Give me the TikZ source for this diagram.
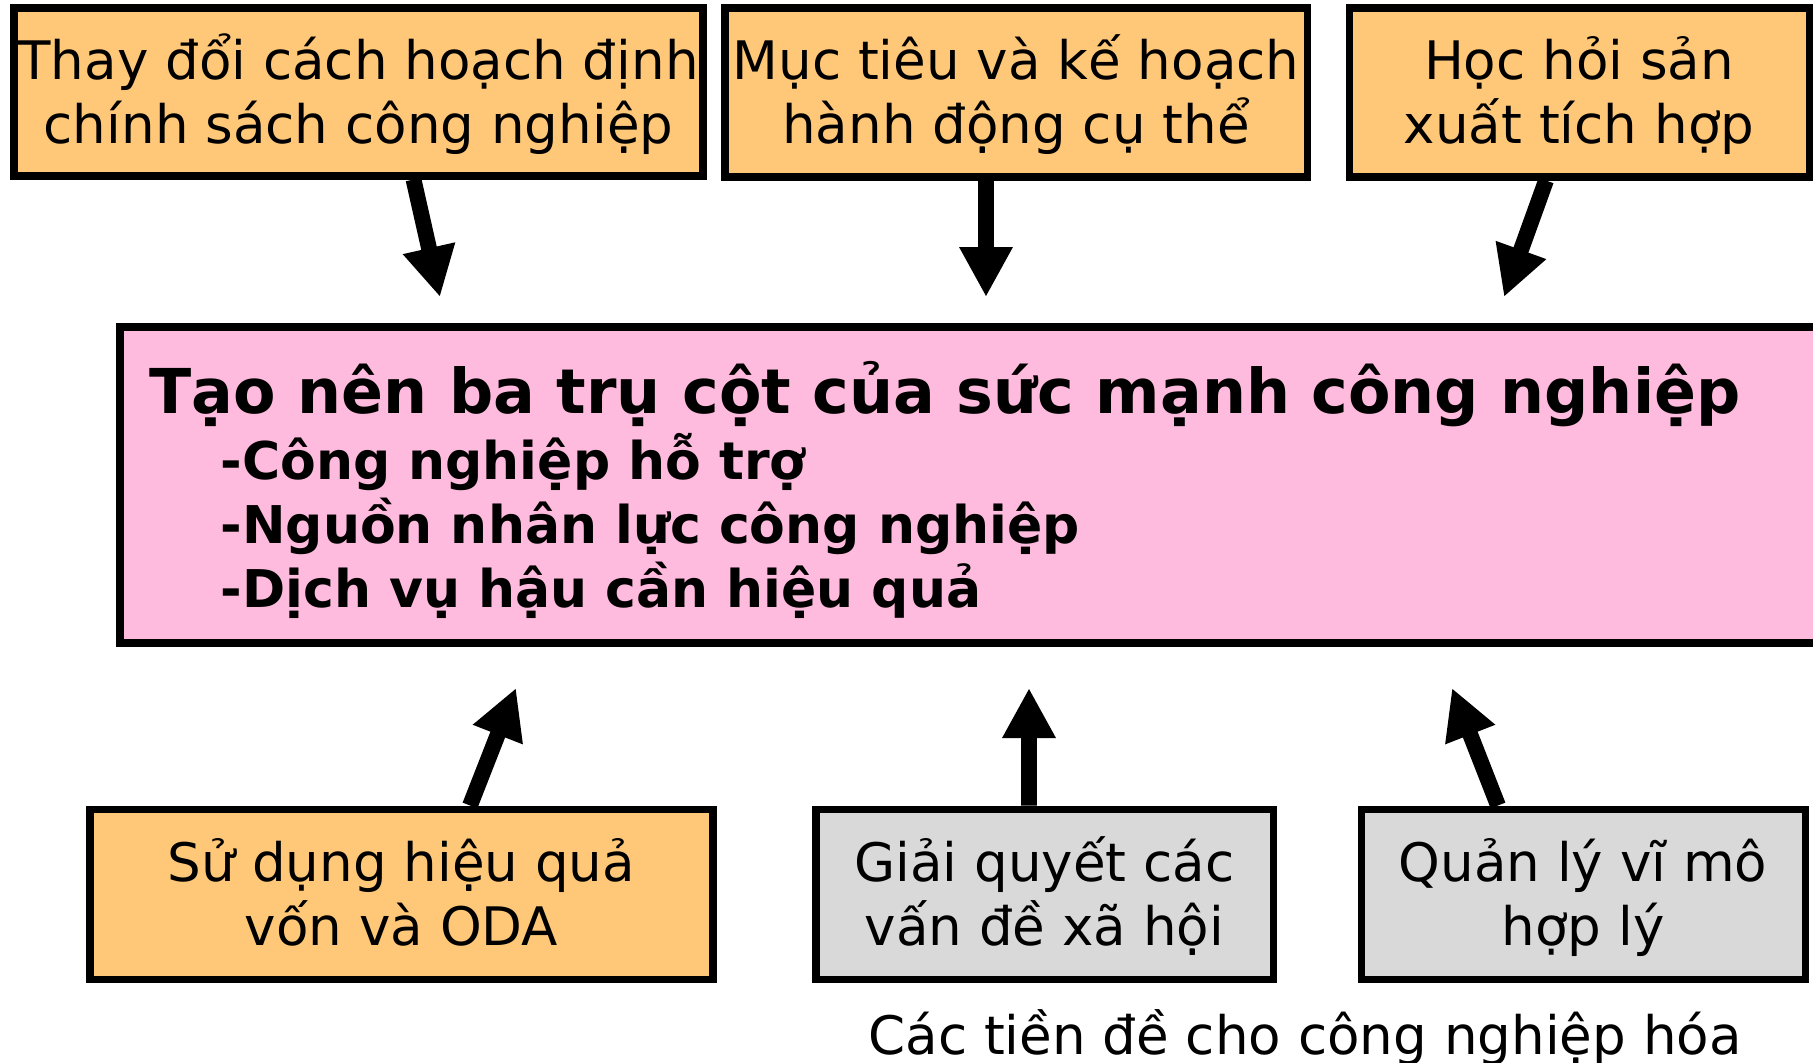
\documentclass[tikz,border=0pt]{standalone}
\usepackage{fontspec}
\setmainfont{DejaVu Sans}
\usetikzlibrary{arrows.meta}

\begin{document}
\begin{tikzpicture}
		[line cap=butt,
		%Styles
		basebox/.style={draw=black,line width=2pt,inner sep=0pt,align=center,
			font=\fontsize{15.1pt}{18.2pt}\selectfont,text height=29.2pt,text depth=0pt},
		goal box/.style={basebox,fill=goalcolor},
		premise box/.style={basebox,fill=premisecolor},
		pillar box/.style={draw=black,line width=2.2pt,fill=pillarcolor,inner sep=0pt},
		pillar text/.style={anchor=base west,inner sep=0pt,font=\bfseries\fontsize{14.8pt}{18pt}\selectfont},
		push/.style={line width=4.5pt,-{Triangle[length=0.5cm,width=0.5cm]}}
		]
		
		%Colors
		\definecolor{goalcolor}{RGB}{255,200,120}		%orange boxes
		\definecolor{pillarcolor}{RGB}{255,187,221}	%pink box
		\definecolor{premisecolor}{RGB}{217,217,217}	%gray boxes
		
		\useasboundingbox (0,0) rectangle (18.13,-10.62);
		
		%Top row
		\node[goal box,minimum width=6.89cm,minimum height=1.68cm] (policy) at (3.585,-0.92) {Thay đổi cách hoạch định\\chính sách công nghiệp};
		\node[goal box,minimum width=5.82cm,minimum height=1.69cm] (targets) at (10.16,-0.925) {Mục tiêu và kế hoạch\\hành động cụ thể};
		\node[goal box,minimum width=4.60cm,minimum height=1.69cm] (learning) at (15.79,-0.925) {Học hỏi sản\\xuất tích hợp};
		
		%The three pillars
		\node[pillar box,minimum width=17.1cm,minimum height=3.16cm] (pillars) at (9.75,-4.85) {};
		\node[pillar text,font=\bfseries\fontsize{17.6pt}{21pt}\selectfont] (pillartitle) at (1.49,-4.13) {Tạo nên ba trụ cột của sức mạnh công nghiệp};
		\node[pillar text] (support) at (2.20,-4.79) {-Công nghiệp hỗ trợ};
		\node[pillar text] (labour) at (2.20,-5.43) {-Nguồn nhân lực công nghiệp};
		\node[pillar text] (logistics) at (2.20,-6.07) {-Dịch vụ hậu cần hiệu quả};
		
		%Bottom row
		\node[goal box,minimum width=6.23cm,minimum height=1.70cm] (capital) at (4.015,-8.94) {Sử dụng hiệu quả\\vốn và ODA};
		\node[premise box,minimum width=4.57cm,minimum height=1.70cm] (social) at (10.445,-8.94) {Giải quyết các\\vấn đề xã hội};
		\node[premise box,minimum width=4.44cm,minimum height=1.70cm] (macro) at (15.83,-8.94) {Quản lý vĩ mô\\hợp lý};
		\node[anchor=base,inner sep=0pt,font=\fontsize{15.1pt}{18.2pt}\selectfont] (premises) at (13.05,-10.54) {Các tiền đề cho công nghiệp hóa};
		
		%Arrow ends
		\coordinate (policy in) at (4.40,-2.97);
		\coordinate (targets in) at (9.86,-2.97);
		\coordinate (learning in) at (15.04,-2.97);
		\coordinate (capital in) at (5.16,-6.88);
		\coordinate (social in) at (10.29,-6.88);
		\coordinate (macro in) at (14.52,-6.88);
		
		%Arrows
		\draw[push] ([xshift=5.5mm]policy.south) -- (policy in);
		\draw[push] ([xshift=-3mm]targets.south) -- (targets in);
		\draw[push] ([xshift=-3.3mm]learning.south) -- (learning in);
		\draw[push] ([xshift=6.85mm]capital.north) -- (capital in);
		\draw[push] ([xshift=-1.55mm]social.north) -- (social in);
		\draw[push] ([xshift=-8.5mm]macro.north) -- (macro in);
	\end{tikzpicture}
\end{document}
